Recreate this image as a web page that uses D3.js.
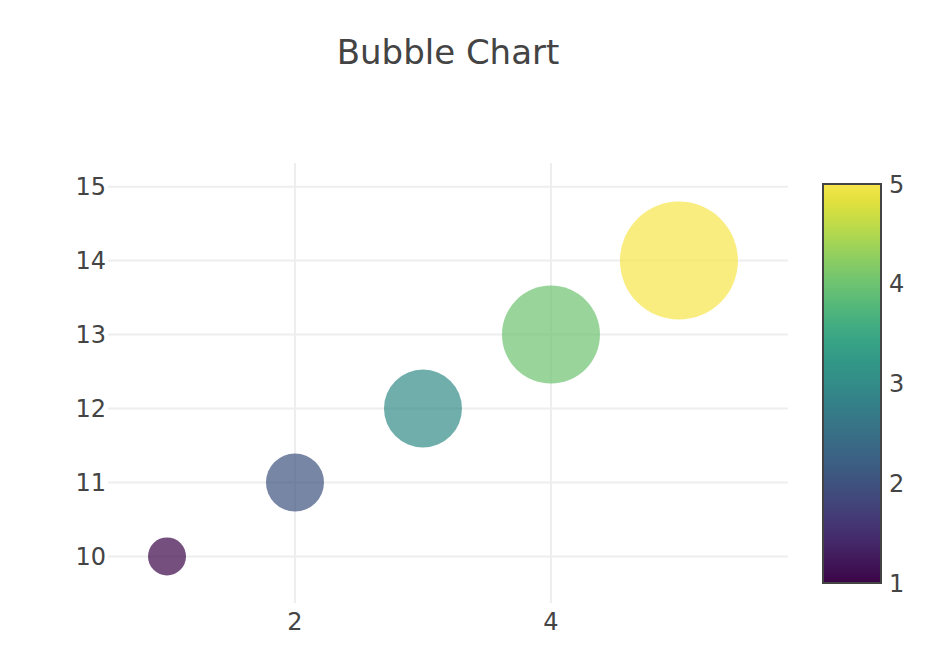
<!DOCTYPE html>
<html>
<head>
<meta charset="utf-8">
<script src="https://cdn.jsdelivr.net/npm/d3@7"></script>
<style>
  body { margin: 0; background: #fff; }
  text { font-family: "DejaVu Sans", Verdana, sans-serif; fill: #444; }
</style>
</head>
<body>
<div id="wrapper"></div>
<script>
// data
const xValues = [1, 2, 3, 4, 5]
const yValues = [10, 11, 12, 13, 14]
const sizeValues = [40, 60, 80, 100, 120]
const colorValues = [1, 2, 3, 4, 5]
const xTicks = [2, 4]
const yTicks = [10, 11, 12, 13, 14, 15]
const colorTicks = [1, 2, 3, 4, 5]
const chartTitle = "Bubble Chart"

// viridis, slightly muted like the reference render
function mutedViridis(t) {
  const c = d3.rgb(d3.interpolateViridis(t))
  const lum = 0.2126 * c.r + 0.7152 * c.g + 0.0722 * c.b
  return d3.interpolateRgb(c, d3.rgb(lum, lum, lum))(0.2)
}

function drawChart() {
  const data = xValues.map((x, i) => ({
    x, y: yValues[i], size: sizeValues[i], color: colorValues[i]
  }))

  const width = 928
  const height = 664
  const plot = { left: 108, right: 788, top: 163, bottom: 603 }

  const svg = d3.select("#wrapper")
    .append("svg")
    .attr("width", width)
    .attr("height", height)

  // scales
  const xScale = d3.scaleLinear()
    .domain([0.539, 5.852])
    .range([plot.left, plot.right])

  const yScale = d3.scaleLinear()
    .domain([9.37, 15.32])
    .range([plot.bottom, plot.top])

  const rScale = d3.scaleLinear()
    .domain([40, 120])
    .range([19, 59])

  const colorScale = d3.scaleSequential(mutedViridis)
    .domain([1, 5])

  // grid
  const grid = svg.append("g")
  grid.selectAll(".vgrid")
    .data(xTicks)
    .join("line")
    .attr("x1", d => xScale(d)).attr("x2", d => xScale(d))
    .attr("y1", plot.top).attr("y2", plot.bottom)
    .attr("stroke", "#eee").attr("stroke-width", 2)
  grid.selectAll(".hgrid")
    .data(yTicks)
    .join("line")
    .attr("x1", plot.left).attr("x2", plot.right)
    .attr("y1", d => yScale(d)).attr("y2", d => yScale(d))
    .attr("stroke", "#eee").attr("stroke-width", 2)

  // axes labels
  svg.append("g").selectAll("text")
    .data(yTicks)
    .join("text")
    .attr("x", plot.left - 2)
    .attr("y", d => yScale(d))
    .attr("dy", "0.36em")
    .attr("text-anchor", "end")
    .attr("font-size", 24)
    .text(d => d)

  svg.append("g").selectAll("text")
    .data(xTicks)
    .join("text")
    .attr("x", d => xScale(d))
    .attr("y", 630)
    .attr("text-anchor", "middle")
    .attr("font-size", 24)
    .text(d => d)

  // bubbles
  svg.append("g").selectAll("circle")
    .data(data)
    .join("circle")
    .attr("cx", d => xScale(d.x))
    .attr("cy", d => yScale(d.y))
    .attr("r", d => rScale(d.size))
    .attr("fill", d => colorScale(d.color))
    .attr("fill-opacity", 0.7)

  // colorbar
  const cb = { x: 823, y: 184, w: 58, h: 399 }
  const cbScale = d3.scaleLinear().domain([1, 5]).range([cb.y + cb.h, cb.y])

  const grad = svg.append("defs").append("linearGradient")
    .attr("id", "viridis")
    .attr("x1", 0).attr("y1", 1).attr("x2", 0).attr("y2", 0)
  grad.selectAll("stop")
    .data(d3.range(0, 1.0001, 0.05))
    .join("stop")
    .attr("offset", d => d)
    .attr("stop-color", d => mutedViridis(d))

  svg.append("rect")
    .attr("x", cb.x).attr("y", cb.y)
    .attr("width", cb.w).attr("height", cb.h)
    .attr("fill", "url(#viridis)")
    .attr("stroke", "#444")
    .attr("stroke-width", 2)

  svg.append("g").selectAll("text")
    .data(colorTicks)
    .join("text")
    .attr("x", 889)
    .attr("y", d => cbScale(d))
    .attr("dy", "0.36em")
    .attr("font-size", 24)
    .text(d => d)

  // title
  svg.append("text")
    .attr("x", (plot.left + plot.right) / 2)
    .attr("y", 64)
    .attr("text-anchor", "middle")
    .attr("font-size", 34)
    .text(chartTitle)
}

drawChart()
</script>
</body>
</html>
